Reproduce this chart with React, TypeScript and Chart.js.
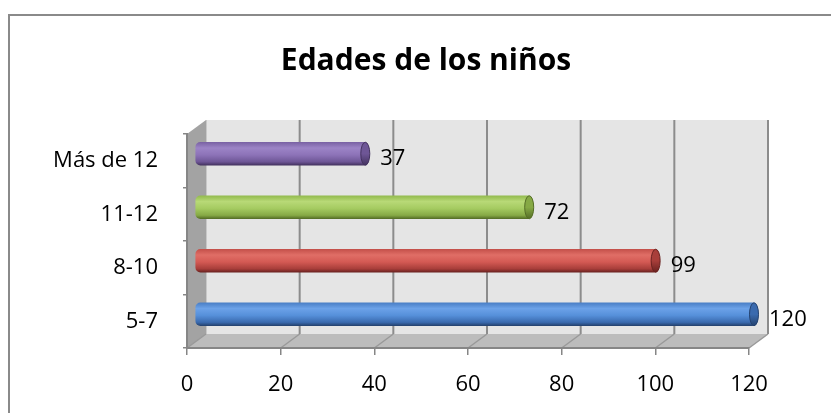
import React, { useEffect, useRef } from 'react';
import { Chart, registerables } from 'chart.js';

Chart.register(...registerables);

const TITLE = 'Edades de los niños';
const CATEGORIES = ['5-7', '8-10', '11-12', 'Más de 12'];
const VALUES = [120, 99, 72, 37];
const X_MIN = 0;
const X_MAX = 120;
const X_STEP = 20;

// cylinder shading per bar: [top, highlight, mid, dark, edge]
const BAR_SHADES = [
  ['#4A7FC6', '#6CA2E8', '#5690DA', '#3A6AAE', '#24426F'],
  ['#C4504A', '#E06E66', '#D45A54', '#A83E3A', '#6A2220'],
  ['#93BB4E', '#B8D977', '#A5CB61', '#86A945', '#556E26'],
  ['#7A62A4', '#9C84C6', '#8D73B8', '#6E5696', '#43325F'],
];

const FONT = 'Open Sans';
const GRAY = '#868686';
const DEPTH_X = 19;
const DEPTH_Y = -14;
const BAR_DX = 8;
const BAR_DY = -7;
const BAR_THICKNESS = 23;
const TITLE_CENTER_X = 426;
const TITLE_BASELINE = 70;

const frame3d = {
  id: 'frame3d',
  beforeDraw(chart: any) {
    const { ctx, chartArea: a, scales } = chart;
    const x = scales.x;
    ctx.save();
    // outer border
    ctx.strokeStyle = '#8A8A8A';
    ctx.lineWidth = 2;
    ctx.strokeRect(9, 15, 900, 500);
    // title
    ctx.fillStyle = '#000';
    ctx.font = `bold 30px "${FONT}"`;
    ctx.textAlign = 'center';
    ctx.textBaseline = 'alphabetic';
    ctx.fillText(TITLE, TITLE_CENTER_X, TITLE_BASELINE);
    // back wall
    ctx.fillStyle = '#E5E5E5';
    ctx.fillRect(a.left + DEPTH_X, a.top + DEPTH_Y, a.right - a.left, a.bottom - a.top);
    // side wall
    ctx.fillStyle = '#A3A3A3';
    ctx.beginPath();
    ctx.moveTo(a.left, a.top);
    ctx.lineTo(a.left + DEPTH_X, a.top + DEPTH_Y);
    ctx.lineTo(a.left + DEPTH_X, a.bottom + DEPTH_Y);
    ctx.lineTo(a.left, a.bottom);
    ctx.closePath();
    ctx.fill();
    // floor
    ctx.fillStyle = '#BCBCBC';
    ctx.beginPath();
    ctx.moveTo(a.left, a.bottom);
    ctx.lineTo(a.left + DEPTH_X, a.bottom + DEPTH_Y);
    ctx.lineTo(a.right + DEPTH_X, a.bottom + DEPTH_Y);
    ctx.lineTo(a.right, a.bottom);
    ctx.closePath();
    ctx.fill();
    // side wall / back wall junction highlight
    ctx.strokeStyle = '#C8C8C8';
    ctx.lineWidth = 1;
    ctx.beginPath();
    ctx.moveTo(a.left + DEPTH_X + 0.5, a.top + DEPTH_Y);
    ctx.lineTo(a.left + DEPTH_X + 0.5, a.bottom + DEPTH_Y);
    ctx.stroke();
    // gridlines on back wall and floor diagonals
    x.ticks.forEach((t: any) => {
      const px = x.getPixelForValue(t.value);
      ctx.strokeStyle = '#8C8C8C';
      ctx.lineWidth = 2;
      if (t.value !== X_MIN) {
        ctx.beginPath();
        ctx.moveTo(px + DEPTH_X, a.top + DEPTH_Y);
        ctx.lineTo(px + DEPTH_X, a.bottom + DEPTH_Y);
        ctx.stroke();
      }
      ctx.lineWidth = 1.5;
      ctx.strokeStyle = '#999999';
      ctx.beginPath();
      ctx.moveTo(px, a.bottom);
      ctx.lineTo(px + DEPTH_X, a.bottom + DEPTH_Y);
      ctx.stroke();
    });
    ctx.restore();
  },
  beforeDatasetsDraw(chart: any) {
    chart.ctx.save();
    chart.ctx.translate(BAR_DX, BAR_DY);
  },
  afterDatasetsDraw(chart: any) {
    const { ctx } = chart;
    const meta = chart.getDatasetMeta(0);
    meta.data.forEach((el: any, i: number) => {
      const sh = BAR_SHADES[i];
      const h = Math.abs(el.height) / 2;
      if (!isFinite(el.y) || !isFinite(h)) return;
      const g = ctx.createLinearGradient(0, el.y - h, 0, el.y + h);
      g.addColorStop(0, sh[3]);
      g.addColorStop(0.5, sh[3]);
      g.addColorStop(1, sh[4]);
      ctx.fillStyle = g;
      ctx.strokeStyle = sh[4];
      ctx.lineWidth = 1;
      ctx.beginPath();
      ctx.ellipse(el.x - 3, el.y, 4.5, h, 0, 0, Math.PI * 2);
      ctx.fill();
      ctx.stroke();
    });
    ctx.restore();
    ctx.save();
    ctx.fillStyle = '#000';
    ctx.font = `22px "${FONT}"`;
    ctx.textAlign = 'left';
    ctx.textBaseline = 'middle';
    meta.data.forEach((el: any, i: number) => {
      ctx.fillText(String(VALUES[i]), el.x + BAR_DX + 12, el.y + BAR_DY + 5);
    });
    ctx.restore();
  },
};

export default function App() {
  const ref = useRef<HTMLCanvasElement>(null);
  useEffect(() => {
    if (!ref.current) return;
    const chart = new Chart(ref.current, {
      type: 'bar',
      data: {
        labels: CATEGORIES,
        datasets: [
          {
            data: VALUES,
            barThickness: BAR_THICKNESS,
            borderRadius: 5,
            borderSkipped: false,
            borderWidth: 0,
            clip: false,
            backgroundColor: (c: any) => {
              const i = c.dataIndex ?? 0;
              const sh = BAR_SHADES[i % BAR_SHADES.length];
              const ys = c.chart.scales?.y;
              if (!ys || c.type !== 'data') return sh[2];
              const yc = ys.getPixelForValue(i);
              if (!isFinite(yc)) return sh[2];
              const h = BAR_THICKNESS / 2;
              const g = c.chart.ctx.createLinearGradient(0, yc - h, 0, yc + h);
              g.addColorStop(0, sh[0]);
              g.addColorStop(0.25, sh[1]);
              g.addColorStop(0.55, sh[2]);
              g.addColorStop(0.85, sh[3]);
              g.addColorStop(1, sh[4]);
              return g;
            },
          } as any,
        ],
      },
      options: {
        indexAxis: 'y',
        animation: false,
        responsive: false,
        devicePixelRatio: 1,
        layout: { padding: { left: 20, right: 82, top: 134, bottom: 0 } },
        plugins: {
          legend: { display: false },
          tooltip: { enabled: false },
          title: { display: false },
        },
        scales: {
          x: {
            type: 'linear',
            min: X_MIN,
            max: X_MAX,
            afterFit: (s: any) => { s.height = 65; },
            ticks: { stepSize: X_STEP, color: '#000', font: { family: FONT, size: 22 }, padding: 17 },
            grid: { drawOnChartArea: false, drawTicks: true, tickLength: 7, color: GRAY, lineWidth: 1.5 },
            border: { display: true, color: GRAY, width: 2 },
          },
          y: {
            type: 'category',
            reverse: true,
            afterFit: (s: any) => { s.width = 167; },
            ticks: { color: '#000', font: { family: FONT, size: 22 }, padding: 25 },
            grid: { offset: true, drawOnChartArea: false, drawTicks: true, tickLength: 4, color: GRAY, lineWidth: 1.5 },
            border: { display: true, color: GRAY, width: 2 },
          },
        },
      } as any,
      plugins: [frame3d],
    });
    return () => chart.destroy();
  }, []);
  return (
    <div style={{ position: 'absolute', left: 0, top: 0, width: 831, height: 413, background: '#fff' }}>
      <canvas ref={ref} width={831} height={413} style={{ display: 'block' }} />
    </div>
  );
}
